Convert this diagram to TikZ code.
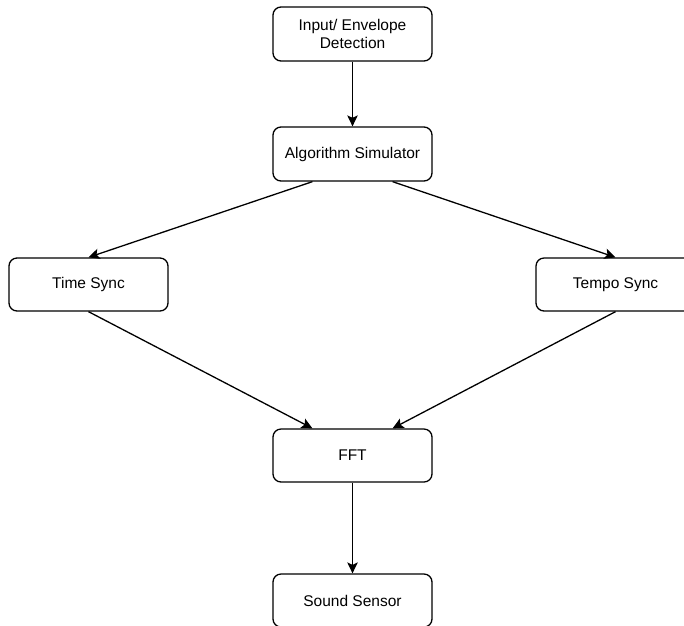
\documentclass[tikz,border=0pt]{standalone}
\usepackage{fontspec}
\setmainfont{Liberation Sans}
\usetikzlibrary{arrows.meta,calc}
\begin{document}
\begin{tikzpicture}[x=1pt,y=-1pt,
  box/.style={draw, line width=1.3pt, rounded corners=8pt, minimum width=159pt,
    minimum height=54pt, align=center, font=\fontsize{15.5}{18.5}\selectfont, inner sep=0pt},
  link/.style={draw, line width=1.3pt, -{Stealth[length=11pt,width=10.5pt,inset=2.5pt]}}]
  \useasboundingbox (0,0) rectangle (684,625);
  \clip (0,0) rectangle (684,625);
  % process blocks
  \node[box] (inp) at (352.5,34) {Input/ Envelope\\Detection};
  \node[box] (alg) at (352.5,154) {Algorithm Simulator};
  \node[box, minimum height=53pt] (ts) at (88.5,284.5) {Time Sync};
  \node[box, minimum height=53pt] (tp) at (615.5,284.5) {Tempo Sync};
  \node[box, minimum height=53pt] (fft) at (352.5,455.5) {FFT};
  \node[box, minimum height=53pt] (ss) at (352.5,600.5) {Sound Sensor};
  % signal flow
  \draw[link] (inp) -- (alg);
  \draw[link] ($(alg.south west)!0.25!(alg.south east)$) -- (ts.north);
  \draw[link] ($(alg.south west)!0.75!(alg.south east)$) -- (tp.north);
  \draw[link] (ts.south) -- ($(fft.north west)!0.25!(fft.north east)$);
  \draw[link] (tp.south) -- ($(fft.north west)!0.75!(fft.north east)$);
  \draw[link] (fft) -- (ss);
\end{tikzpicture}
\end{document}
